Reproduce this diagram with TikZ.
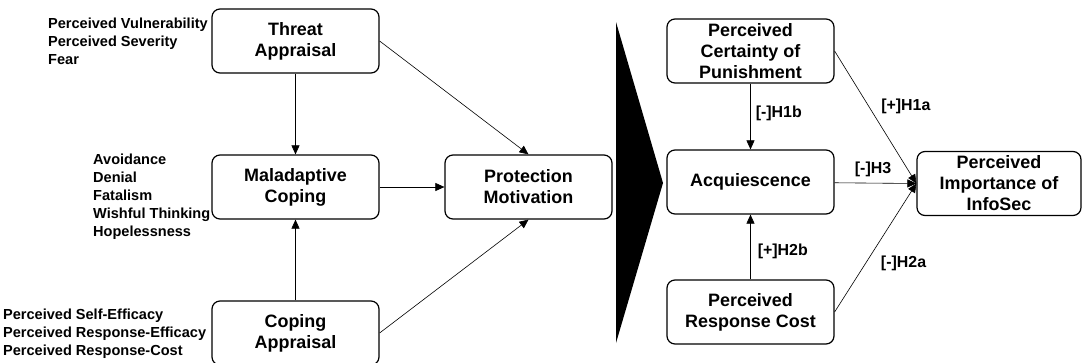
\documentclass[tikz,border=0pt]{standalone}
\usepackage{fontspec}
\setmainfont{Liberation Sans}
\usetikzlibrary{positioning,arrows.meta}

\begin{document}
\begin{tikzpicture}[x=1bp, y=-1bp,
  box/.style={draw, line width=1.2bp, rounded corners=8bp, minimum width=167bp,
              minimum height=64bp, inner sep=0pt, align=center,
              font=\fontsize{18}{21}\selectfont\bfseries},
  arr/.style={-{Triangle[length=9bp, width=8bp]}, line width=0.6bp},
  lst/.style={anchor=north west, inner sep=0pt, align=left,
              font=\fontsize{14.6}{18}\selectfont\bfseries},
  hyp/.style={inner sep=0pt, font=\fontsize{16}{18}\selectfont\bfseries}]
  \useasboundingbox (0,0) rectangle (1082,362);

  % PMT side
  \node[box] (threat) at (295.5,41)  {Threat\\Appraisal};
  \node[box] (malad)  at (295.5,187) {Maladaptive\\Coping};
  \node[box] (coping) at (295.5,333) {Coping\\Appraisal};
  \node[box] (prot)   at (528.5,187) {Protection\\Motivation};

  \node[lst] (tlist) at (48,18)  {Perceived Vulnerability\\Perceived Severity\\Fear};
  \node[lst] (mlist) at (93,154) {Avoidance\\Denial\\Fatalism\\Wishful Thinking\\Hopelessness};
  \node[lst] (clist) at (3,309)  {Perceived Self-Efficacy\\Perceived Response-Efficacy\\Perceived Response-Cost};

  \foreach \a/\b in {threat/malad, coping/malad, malad/prot,
                     threat.east/prot.north, coping.east/prot.south}
    \draw[arr] (\a) -- (\b);

  % big arrow
  \fill (616,22) -- (663,183) -- (616,343) -- cycle;

  % model side
  \node[box] (cert) at (750.5,51)  {Perceived\\Certainty of\\Punishment};
  \node[box] (acq)  at (750.5,182) {Acquiescence};
  \node[box] (cost) at (750.5,312) {Perceived\\Response Cost};
  \node[box, minimum width=164bp] (imp) at (999,183.5) {Perceived\\Importance of\\InfoSec};

  \newcommand{\hyplink}[5]{\draw[arr] (#1) -- node[hyp, pos=#3, #4] {#5} (#2);}
  \hyplink{cert}{acq}{0.45}{anchor=west, xshift=5bp}{[-]H1b}
  \hyplink{cost}{acq}{0.43}{anchor=west, xshift=7bp}{[+]H2b}
  \hyplink{cert.east}{imp.west}{0.42}{anchor=west, xshift=12bp}{[+]H1a}
  \hyplink{acq}{imp.west}{0.47}{anchor=south, yshift=6bp}{[-]H3}
  \hyplink{cost.east}{imp.west}{0.38}{anchor=west, xshift=15bp}{[-]H2a}
\end{tikzpicture}
\end{document}
